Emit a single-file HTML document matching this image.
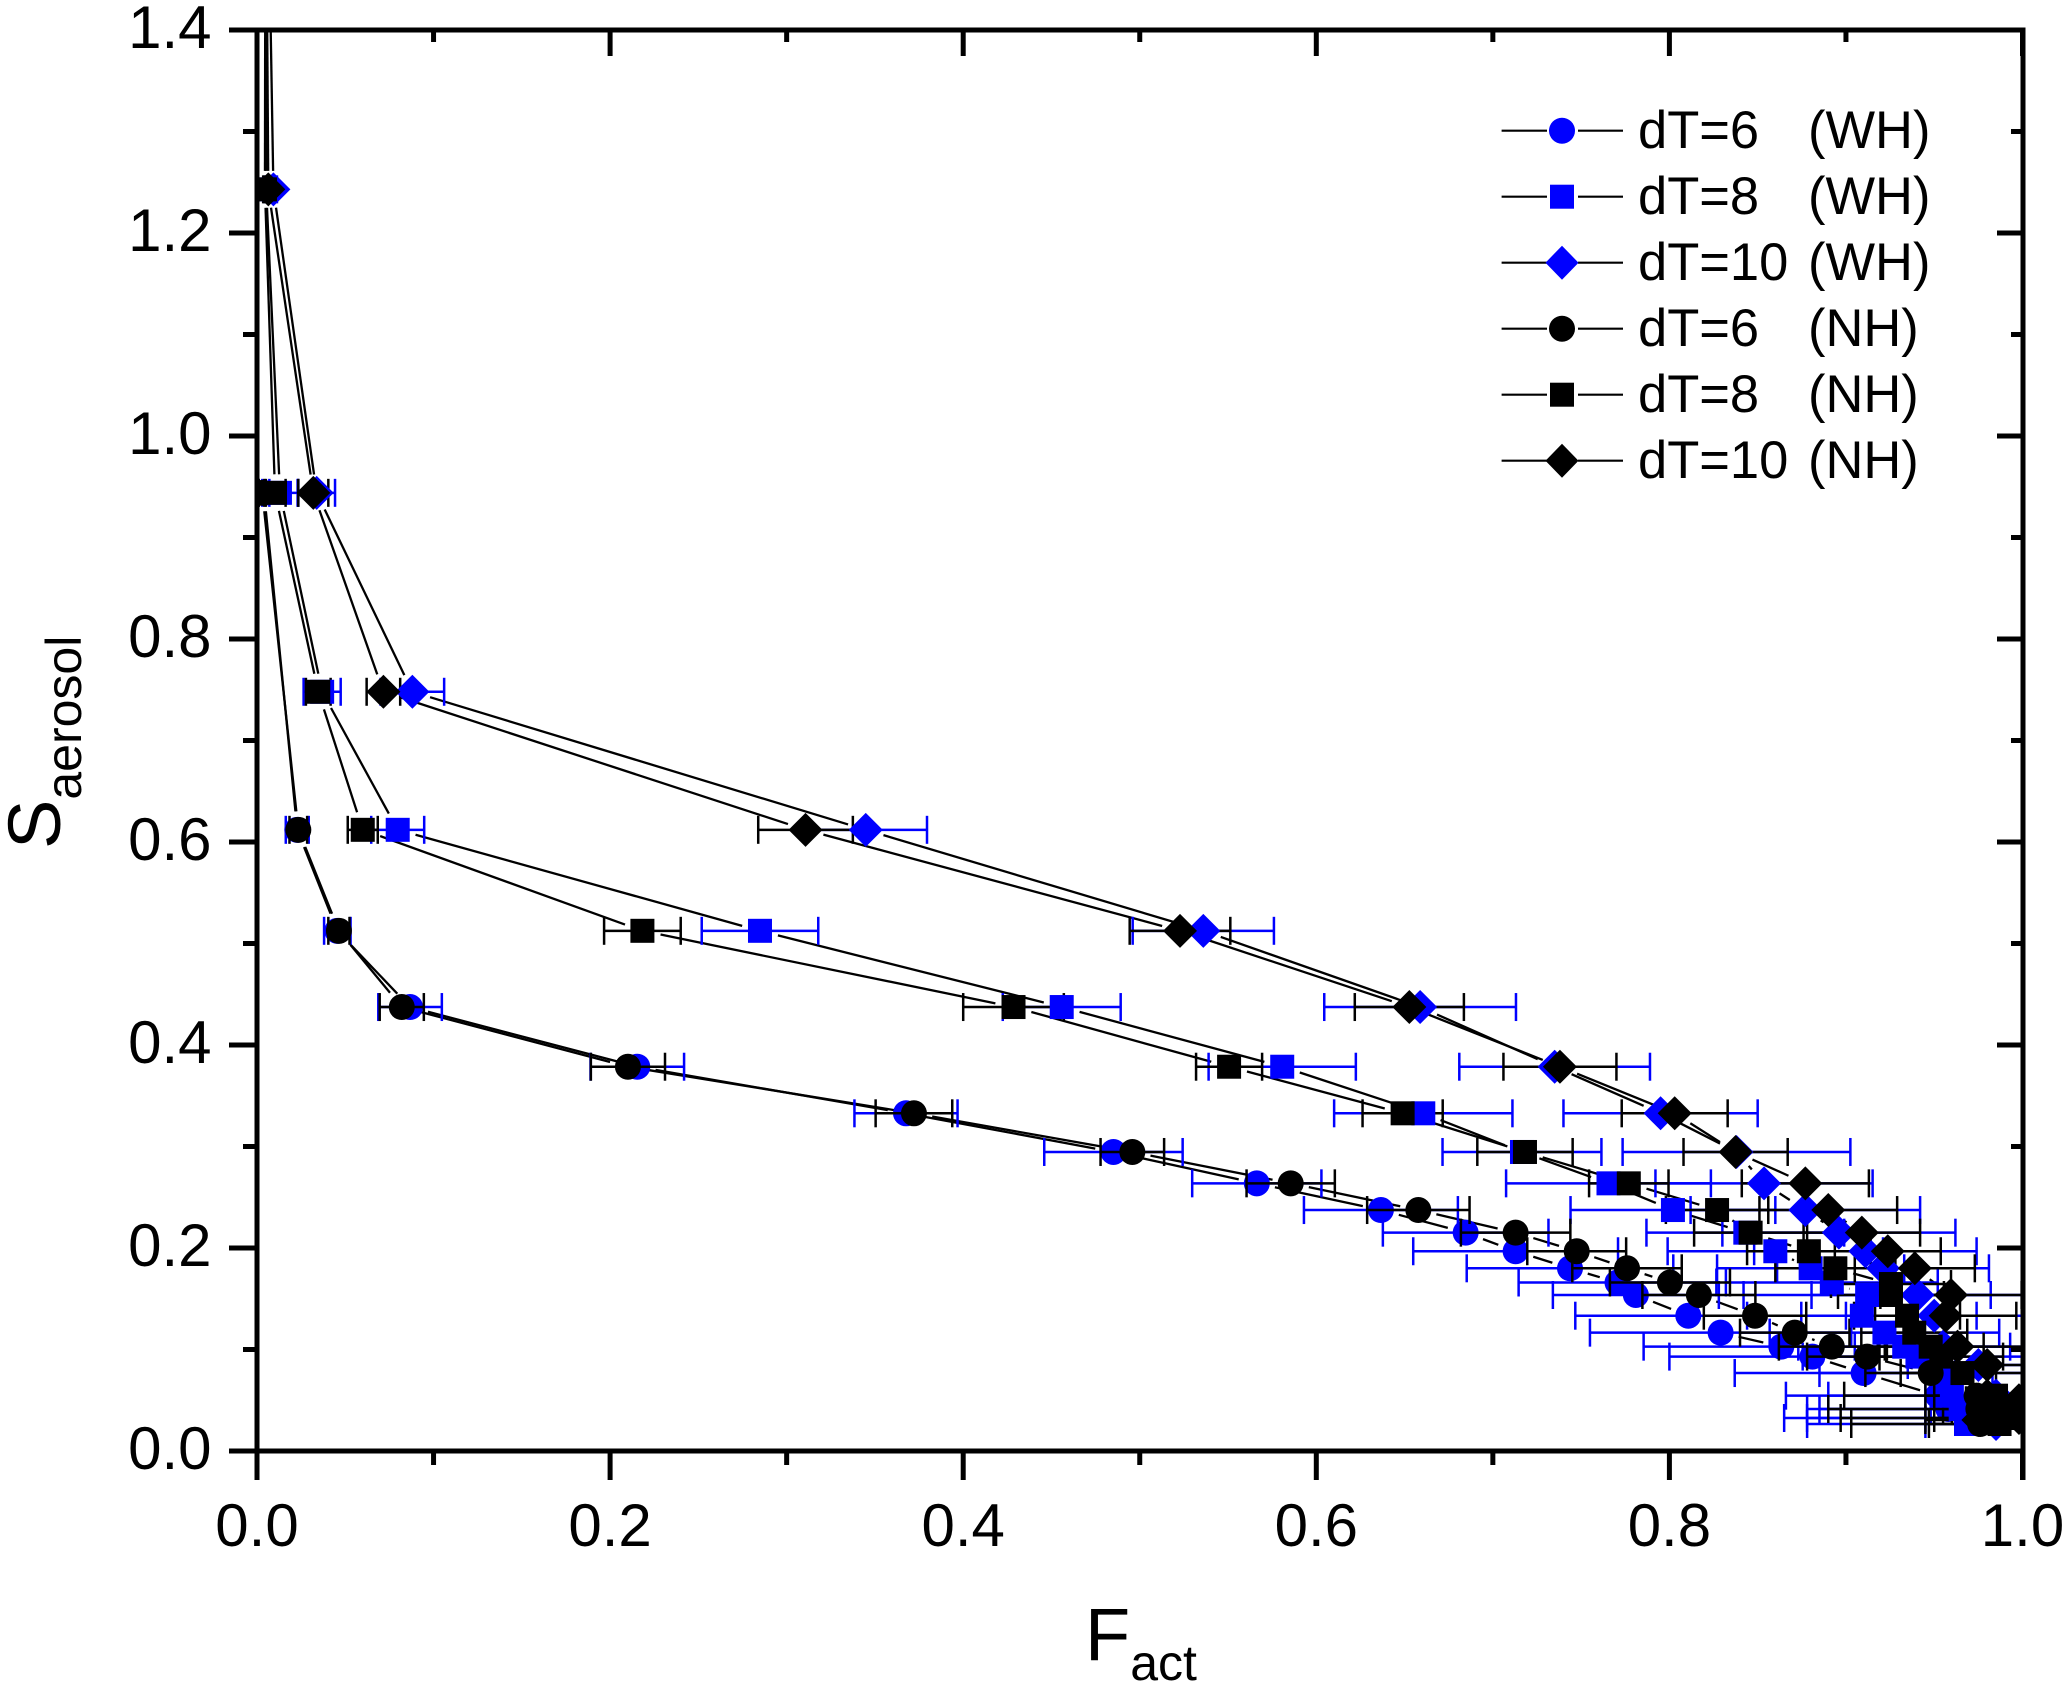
<!DOCTYPE html>
<html lang="en">
<head>
<meta charset="utf-8">
<title>Saerosol vs Fact</title>
<style>
html,body{margin:0;padding:0;background:#fff;}
svg{display:block;}
text{font-family:"Liberation Sans",Arial,sans-serif;fill:#000;}
</style>
</head>
<body>
<svg id="chart" xmlns="http://www.w3.org/2000/svg" width="2067" height="1681" viewBox="0 0 2067 1681">
  <rect x="0" y="0" width="2067" height="1681" fill="#fff"/>
  <defs><clipPath id="plot-clip"><rect x="257" y="30" width="1766" height="1421"/></clipPath></defs>
  <g id="series-layer" clip-path="url(#plot-clip)"></g>
  <g id="axes-layer"></g>
  <text x="1085" y="1660" font-size="74">F<tspan font-size="50" dy="20">act</tspan></text>
  <text transform="translate(60,849) rotate(-90)" font-size="74">S<tspan font-size="50" dy="21">aerosol</tspan></text>
  <g id="legend">
    <g>
      <path d="M1501.6 130.7H1547M1578 130.7H1623" stroke="#000" stroke-width="2.2" fill="none"/>
      <circle cx="1562" cy="130.7" r="13" fill="#0000ff"/>
      <text x="1638" y="148" font-size="52.5">dT=6<tspan x="1808">(WH)</tspan></text>
    </g>
    <g>
      <path d="M1501.6 196.7H1547M1578 196.7H1623" stroke="#000" stroke-width="2.2" fill="none"/>
      <rect x="1550" y="184.7" width="24" height="24" fill="#0000ff"/>
      <text x="1638" y="214" font-size="52.5">dT=8<tspan x="1808">(WH)</tspan></text>
    </g>
    <g>
      <path d="M1501.6 262.7H1547M1578 262.7H1623" stroke="#000" stroke-width="2.2" fill="none"/>
      <path d="M1562 245.7L1578.5 262.7L1562 279.7L1545.5 262.7Z" fill="#0000ff"/>
      <text x="1638" y="280" font-size="52.5">dT=10<tspan x="1808">(WH)</tspan></text>
    </g>
    <g>
      <path d="M1501.6 328.7H1547M1578 328.7H1623" stroke="#000" stroke-width="2.2" fill="none"/>
      <circle cx="1562" cy="328.7" r="13" fill="#000"/>
      <text x="1638" y="346" font-size="52.5">dT=6<tspan x="1808">(NH)</tspan></text>
    </g>
    <g>
      <path d="M1501.6 394.7H1547M1578 394.7H1623" stroke="#000" stroke-width="2.2" fill="none"/>
      <rect x="1550" y="382.7" width="24" height="24" fill="#000"/>
      <text x="1638" y="412" font-size="52.5">dT=8<tspan x="1808">(NH)</tspan></text>
    </g>
    <g>
      <path d="M1501.6 460.7H1547M1578 460.7H1623" stroke="#000" stroke-width="2.2" fill="none"/>
      <path d="M1562 443.7L1578.5 460.7L1562 477.7L1545.5 460.7Z" fill="#000"/>
      <text x="1638" y="478" font-size="52.5">dT=10<tspan x="1808">(NH)</tspan></text>
    </g>
  </g>
</svg>
<script>
const xTickLabels = ['0.0','0.2','0.4','0.6','0.8','1.0'];
const yTickLabels = ['0.0','0.2','0.4','0.6','0.8','1.0','1.2','1.4'];

const sWH6 = [0.944,0.612,0.5125,0.4374,0.3786,0.3327,0.2946,0.2637,0.2374,0.2151,0.1968,0.18,0.166,0.1537,0.1333,0.1166,0.1028,0.093,0.0768,0.0545,0.0414,0.0325];
const xWH6 = [0.004,0.0228,0.0455,0.0867,0.2154,0.3676,0.4851,0.5663,0.6366,0.6846,0.7129,0.7437,0.7706,0.781,0.8107,0.829,0.8634,0.881,0.91,0.952,0.958,0.97];
const eWH6 = [0.003,0.0065,0.0075,0.018,0.0265,0.0292,0.0392,0.0366,0.0436,0.0469,0.058,0.0585,0.056,0.047,0.064,0.074,0.078,0.081,0.073,0.086,0.08,0.105];

const sWH8 = [1.6,1.243,0.944,0.748,0.612,0.5125,0.4374,0.3786,0.3327,0.2946,0.2637,0.2374,0.2151,0.1968,0.18,0.166,0.1537,0.1333,0.1166,0.1028,0.093,0.0768,0.0545,0.0414,0.0325,0.0266];
const xWH8 = [0.0053,0.0052,0.013,0.0369,0.0797,0.2849,0.4558,0.5807,0.6606,0.7165,0.7655,0.802,0.843,0.86,0.88,0.892,0.912,0.909,0.9218,0.933,0.9405,0.955,0.96,0.965,0.968,0.968];
const eWH8 = [0.001,0.001,0.01,0.0105,0.015,0.033,0.0334,0.0417,0.0505,0.045,0.058,0.058,0.056,0.061,0.053,0.06,0.07,0.065,0.065,0.06,0.065,0.07,0.07,0.08,0.09,0.09];

const sWH10 = [1.6,1.243,0.944,0.748,0.612,0.5125,0.4374,0.3786,0.3327,0.2946,0.2637,0.2374,0.2151,0.1968,0.18,0.1537,0.1333,0.1028,0.0847,0.0545,0.0414,0.0325,0.0266];
const xWH10 = [0.0058,0.0093,0.0338,0.088,0.3448,0.536,0.6588,0.735,0.795,0.838,0.8536,0.877,0.896,0.911,0.921,0.9405,0.95,0.955,0.975,0.985,0.988,0.985,0.985];
const eWH10 = [0.002,0.002,0.0104,0.018,0.0347,0.04,0.0543,0.054,0.055,0.0645,0.0615,0.065,0.066,0.063,0.06,0.06,0.05,0.05,0.04,0.04,0.04,0.04,0.04];

const sNH6 = [0.944,0.612,0.5125,0.4374,0.3786,0.3327,0.2946,0.2637,0.2374,0.2151,0.1968,0.18,0.166,0.1537,0.1333,0.1166,0.1028,0.093,0.0768,0.0545,0.0414,0.0325,0.0266];
const xNH6 = [0.003,0.0234,0.0464,0.082,0.2101,0.3721,0.4958,0.5855,0.6578,0.7129,0.7475,0.776,0.8003,0.8167,0.8485,0.871,0.892,0.912,0.948,0.974,0.975,0.977,0.976];
const eNH6 = [0.002,0.005,0.006,0.0125,0.021,0.0217,0.018,0.025,0.029,0.031,0.028,0.031,0.034,0.032,0.029,0.031,0.03,0.034,0.037,0.075,0.085,0.08,0.073];

const sNH8 = [1.6,1.243,0.944,0.748,0.612,0.5125,0.4374,0.3786,0.3327,0.2946,0.2637,0.2374,0.2151,0.1968,0.18,0.1645,0.1537,0.1333,0.1166,0.1028,0.093,0.0768,0.0545,0.0414,0.0325,0.0266];
const xNH8 = [0.0048,0.0045,0.0102,0.0347,0.0599,0.2183,0.4285,0.5506,0.6489,0.7182,0.777,0.827,0.846,0.879,0.894,0.9255,0.9255,0.9346,0.9387,0.948,0.954,0.966,0.985,0.995,0.99,0.987];
const eNH8 = [0.001,0.001,0.006,0.007,0.0085,0.0217,0.0285,0.0187,0.0227,0.027,0.0225,0.029,0.032,0.035,0.034,0.034,0.03,0.03,0.03,0.03,0.035,0.035,0.04,0.04,0.04,0.04];

const sNH10 = [1.6,1.243,0.944,0.748,0.612,0.5125,0.4374,0.3786,0.3327,0.2946,0.2637,0.2374,0.2151,0.1968,0.18,0.1537,0.1333,0.1028,0.0847,0.0545,0.05,0.0414,0.0325,0.0305];
const xNH10 = [0.005,0.0064,0.0319,0.0716,0.3107,0.5228,0.6527,0.738,0.803,0.8375,0.877,0.89,0.909,0.9237,0.939,0.9595,0.9565,0.9632,0.98,0.98,0.998,0.99,0.998,0.975];
const eNH10 = [0.002,0.002,0.0085,0.0095,0.0268,0.0285,0.0309,0.032,0.03,0.0295,0.036,0.039,0.033,0.03,0.034,0.04,0.04,0.04,0.02,0.03,0.03,0.03,0.03,0.03];

const NS = 'http://www.w3.org/2000/svg';
const X0 = 257, X1 = 2022.5, Y0 = 1451, Y1 = 30;
const XMAX = 1, YMAX = 1.4;
function sx(v){ return X0 + (X1 - X0) * v / XMAX; }
function sy(v){ return Y0 - (Y0 - Y1) * v / YMAX; }

const BLUE = '#0000ff', BLACK = '#000000';
const seriesLayer = document.getElementById('series-layer');
const axesLayer = document.getElementById('axes-layer');

function line(parent, x1, y1, x2, y2, color, width, name){
  const el = document.createElementNS(NS, 'line');
  el.setAttribute('x1', x1);
  el.setAttribute('y1', y1);
  el.setAttribute('x2', x2);
  el.setAttribute('y2', y2);
  el.setAttribute('stroke', color);
  el.setAttribute('stroke-width', width);
  
  
  parent.appendChild(el);
  return el;
}

function group(parent, name){
  const g = document.createElementNS(NS, 'g');
  
  
  parent.appendChild(g);
  return g;
}

function drawLine(name, xs, ss){
  const g = group(seriesLayer, name + '-line');
  const GAP = 18.5;
  for (let i = 0; i < xs.length - 1; i++){
    const ax = sx(xs[i]), ay = sy(ss[i]), bx = sx(xs[i+1]), by = sy(ss[i+1]);
    const d = Math.hypot(bx - ax, by - ay);
    if (d <= 2 * GAP) continue;
    const ux = (bx - ax) / d, uy = (by - ay) / d;
    line(g, ax + ux * GAP, ay + uy * GAP, bx - ux * GAP, by - uy * GAP, BLACK, 2.3, 'line-segment');
  }
}

function drawErrors(name, xs, ss, es, color){
  const g = group(seriesLayer, name + '-error-bars');
  const CAP = 14;
  for (let i = 0; i < xs.length; i++){
    const y = sy(ss[i]);
    const l = sx(xs[i] - es[i]), r = sx(xs[i] + es[i]);
    line(g, l, y, r, y, color, 2.5, 'error-bar');
    line(g, l, y - CAP, l, y + CAP, color, 2.5, 'error-cap-low');
    line(g, r, y - CAP, r, y + CAP, color, 2.5, 'error-cap-high');
  }
}

function drawMarkers(name, xs, ss, shape, color){
  const g = group(seriesLayer, name + '-markers');
  for (let i = 0; i < xs.length; i++){
    const cx = sx(xs[i]), cy = sy(ss[i]);
    let el;
    if (shape === 'circle'){
      el = document.createElementNS(NS, 'circle');
      el.setAttribute('cx', cx);
      el.setAttribute('cy', cy);
      el.setAttribute('r', 13);
    } else if (shape === 'square'){
      el = document.createElementNS(NS, 'rect');
      el.setAttribute('x', cx - 12);
      el.setAttribute('y', cy - 12);
      el.setAttribute('width', 24);
      el.setAttribute('height', 24);
    } else {
      el = document.createElementNS(NS, 'path');
      const h = 17;
      el.setAttribute('d', 'M' + cx + ' ' + (cy - h) + 'L' + (cx + h) + ' ' + cy + 'L' + cx + ' ' + (cy + h) + 'L' + (cx - h) + ' ' + cy + 'Z');
    }
    el.setAttribute('fill', color);
    
    
    g.appendChild(el);
  }
}

drawLine('dt6-wh', xWH6, sWH6);
drawLine('dt8-wh', xWH8, sWH8);
drawLine('dt10-wh', xWH10, sWH10);
drawLine('dt6-nh', xNH6, sNH6);
drawLine('dt8-nh', xNH8, sNH8);
drawLine('dt10-nh', xNH10, sNH10);

drawErrors('dt6-wh', xWH6, sWH6, eWH6, BLUE);
drawErrors('dt8-wh', xWH8, sWH8, eWH8, BLUE);
drawErrors('dt10-wh', xWH10, sWH10, eWH10, BLUE);
drawMarkers('dt6-wh', xWH6, sWH6, 'circle', BLUE);
drawErrors('dt6-nh', xNH6, sNH6, eNH6, BLACK);
drawErrors('dt8-nh', xNH8, sNH8, eNH8, BLACK);
drawErrors('dt10-nh', xNH10, sNH10, eNH10, BLACK);
drawMarkers('dt8-wh', xWH8, sWH8, 'square', BLUE);
drawMarkers('dt10-wh', xWH10, sWH10, 'diamond', BLUE);
drawMarkers('dt6-nh', xNH6, sNH6, 'circle', BLACK);
drawMarkers('dt8-nh', xNH8, sNH8, 'square', BLACK);
drawMarkers('dt10-nh', xNH10, sNH10, 'diamond', BLACK);

const AW = 5, MAJ = 26, MIN = 12;
const TICKW = 5;
line(axesLayer, X0, Y1 - 2.5, X0, 1480, BLACK, AW, 'y-axis-line');
line(axesLayer, 2023, Y1 - 2.5, 2023, 1480, BLACK, AW, 'right-axis-line');
line(axesLayer, 229, Y1, 2025.5, Y1, BLACK, AW, 'top-axis-line');
line(axesLayer, 229, Y0, 2025.5, Y0, BLACK, AW, 'x-axis-line');

function tickText(x, y, label, anchor, name){
  const t = document.createElementNS(NS, 'text');
  t.setAttribute('x', x);
  t.setAttribute('y', y);
  t.setAttribute('font-size', 60);
  t.setAttribute('text-anchor', anchor);
  
  
  t.textContent = label;
  axesLayer.appendChild(t);
}

xTickLabels.forEach(function(label, i){
  const x = sx(Number(label));
  line(axesLayer, x, Y0, x, Y0 + 29, BLACK, TICKW, 'x-major-tick');
  line(axesLayer, x, Y1, x, Y1 + MAJ, BLACK, TICKW, 'top-major-tick');
  tickText(x, 1546, label, 'middle', 'x-tick-label');
  if (i < xTickLabels.length - 1){
    const m = sx(Number(label) + 0.1);
    line(axesLayer, m, Y0, m, Y0 + 14, BLACK, TICKW, 'x-minor-tick');
    line(axesLayer, m, Y1, m, Y1 + MIN, BLACK, TICKW, 'top-minor-tick');
  }
});

yTickLabels.forEach(function(label, i){
  const y = sy(Number(label));
  line(axesLayer, 229, y, X0, y, BLACK, TICKW, 'y-major-tick');
  line(axesLayer, 2023, y, 2023 - MAJ, y, BLACK, TICKW, 'right-major-tick');
  tickText(211.5, y + 18, label, 'end', 'y-tick-label');
  if (i < yTickLabels.length - 1){
    const m = sy(Number(label) + 0.1);
    line(axesLayer, 243, m, X0, m, BLACK, TICKW, 'y-minor-tick');
    line(axesLayer, 2023, m, 2023 - MIN, m, BLACK, TICKW, 'right-minor-tick');
  }
});
</script>
</body>
</html>
